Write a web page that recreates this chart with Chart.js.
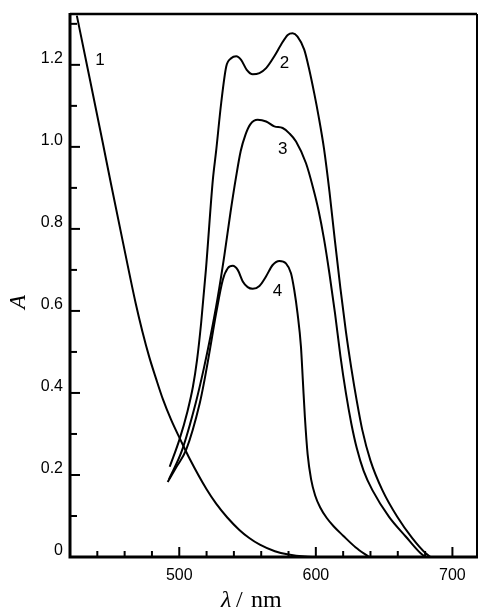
<!DOCTYPE html>
<html>
<head>
<meta charset="utf-8">
<script src="https://cdn.jsdelivr.net/npm/chart.js@4.4.0/dist/chart.umd.min.js"></script>
<style>
  html, body { margin: 0; padding: 0; background: #fff; }
  #wrap { width: 479px; height: 609px; position: relative; }
</style>
</head>
<body>
<div id="wrap"><canvas id="spectra"></canvas></div>
<script>
// curve 1
const c1Wl = [425, 433, 444, 450, 458, 468, 473, 478, 483, 488, 494, 501, 508, 520, 527, 535, 544, 551, 559, 570, 580, 592, 600];
const c1A = [1.32, 1.19, 1.01, 0.91, 0.78, 0.62, 0.55, 0.488, 0.435, 0.385, 0.335, 0.285, 0.237, 0.165, 0.13, 0.097, 0.066, 0.047, 0.03, 0.014, 0.006, 0.001, 0];

// curve 2
const c2Wl = [493, 500, 506, 510, 513, 516, 519.5, 524.6, 527, 530.7, 534.4, 538, 541.7, 545.3, 549.4, 553.8, 558.7, 563.6, 569.6, 574.5, 579.4, 583, 586.6, 591.5, 595.2, 598.8, 602, 606, 610, 614, 618, 622, 626, 630, 634, 640, 648.7, 659.6, 670.6, 680.4, 684];
const c2A = [0.22, 0.285, 0.355, 0.415, 0.48, 0.57, 0.70, 0.92, 0.99, 1.107, 1.196, 1.216, 1.221, 1.212, 1.188, 1.177, 1.18, 1.192, 1.221, 1.249, 1.273, 1.277, 1.269, 1.237, 1.188, 1.131, 1.075, 0.995, 0.89, 0.77, 0.655, 0.55, 0.46, 0.38, 0.31, 0.235, 0.163, 0.098, 0.046, 0.009, 0];

// curve 3
const c3Wl = [492.5, 502, 512, 518, 523, 528, 533, 537.5, 541.5, 545, 548.5, 552, 557.4, 563.6, 569.6, 575.7, 580.6, 585.5, 592.8, 598, 602, 606, 610, 614, 618, 622, 626, 630, 635, 641.4, 653.6, 665.8, 675.5, 680];
const c3A = [0.19, 0.26, 0.375, 0.46, 0.54, 0.63, 0.735, 0.84, 0.925, 0.99, 1.03, 1.055, 1.066, 1.062, 1.05, 1.046, 1.033, 1.013, 0.96, 0.9, 0.845, 0.775, 0.69, 0.595, 0.49, 0.40, 0.325, 0.265, 0.21, 0.163, 0.098, 0.05, 0.013, 0];

// curve 4
const c4Wl = [491.5, 498, 505, 515, 518.5, 522, 527, 531.9, 535.5, 539.2, 542.8, 546.5, 550.1, 553.8, 558.7, 563.5, 568.4, 573.3, 578.1, 581.8, 584.2, 586.6, 589.1, 590.5, 592, 594, 596.5, 599.5, 603, 608, 613, 620, 629, 639];
const c4A = [0.183, 0.22, 0.261, 0.375, 0.432, 0.497, 0.594, 0.676, 0.704, 0.71, 0.7, 0.672, 0.658, 0.654, 0.661, 0.684, 0.712, 0.722, 0.716, 0.692, 0.651, 0.594, 0.513, 0.43, 0.34, 0.25, 0.19, 0.15, 0.122, 0.095, 0.075, 0.052, 0.024, 0];

// curve numbers and where they sit
const curveLabels = ['1', '2', '3', '4'];
const curveLabelWl = [442, 577, 575.7, 572];
const curveLabelA = [1.212, 1.204, 0.994, 0.647];

const toPoints = (xs, ys) => xs.map((x, i) => ({ x, y: ys[i] }));

const makeSet = (name, xs, ys) => ({
  label: name,
  data: toPoints(xs, ys),
  borderColor: '#000',
  borderWidth: 2,
  pointRadius: 0,
  fill: false,
  cubicInterpolationMode: 'monotone',
});

const isStep = (v, step) => Math.abs(v / step - Math.round(v / step)) < 1e-6;

const decorations = {
  id: 'decorations',
  afterDatasetsDraw(chart) {
    const { ctx, chartArea: a, scales: { x, y } } = chart;
    ctx.save();
    ctx.strokeStyle = '#000';
    ctx.lineCap = 'butt';

    // inward ticks
    ctx.lineWidth = 2;
    x.ticks.forEach((t) => {
      if (!isStep(t.value, 20)) return;
      const px = x.getPixelForValue(t.value);
      const len = isStep(t.value, 100) ? 10 : 6;
      ctx.beginPath();
      ctx.moveTo(px, a.bottom);
      ctx.lineTo(px, a.bottom - len);
      ctx.stroke();
    });
    y.ticks.forEach((t) => {
      if (!isStep(t.value, 0.1)) return;
      const py = y.getPixelForValue(t.value);
      const len = isStep(t.value, 0.2) ? 10 : 7;
      ctx.beginPath();
      ctx.moveTo(a.left, py);
      ctx.lineTo(a.left + len, py);
      ctx.stroke();
    });

    // frame
    ctx.lineWidth = 2.5;
    ctx.beginPath();
    ctx.moveTo(a.left, a.top);
    ctx.lineTo(a.right, a.top);
    ctx.stroke();
    ctx.lineWidth = 2;
    ctx.beginPath();
    ctx.moveTo(a.right, a.top);
    ctx.lineTo(a.right, a.bottom);
    ctx.stroke();
    ctx.lineWidth = 3;
    ctx.beginPath();
    ctx.moveTo(a.left, a.top - 1);
    ctx.lineTo(a.left, a.bottom);
    ctx.lineTo(a.right + 1, a.bottom);
    ctx.stroke();

    // curve numbers
    ctx.fillStyle = '#000';
    ctx.font = '17px "Liberation Sans", Arial, sans-serif';
    ctx.textAlign = 'center';
    ctx.textBaseline = 'middle';
    curveLabels.forEach((txt, i) => {
      ctx.fillText(txt, x.getPixelForValue(curveLabelWl[i]), y.getPixelForValue(curveLabelA[i]));
    });

    // axis titles
    ctx.textAlign = 'left';
    ctx.textBaseline = 'alphabetic';
    ctx.font = 'italic 24px "Liberation Serif", "Times New Roman", serif';
    ctx.fillText('\u03BB', 221, 607);
    ctx.font = '24px "Liberation Serif", "Times New Roman", serif';
    ctx.fillText('/', 236, 607);
    ctx.fillText('nm', 251, 607);

    ctx.save();
    ctx.translate(25, 302);
    ctx.rotate(-Math.PI / 2);
    ctx.textAlign = 'center';
    ctx.font = 'italic 23px "Liberation Serif", "Times New Roman", serif';
    ctx.fillText('A', 0, 0);
    ctx.restore();

    ctx.restore();
  },
};

const tickFont = { family: '"Liberation Sans", Arial, sans-serif', size: 16 };

new Chart(document.getElementById('spectra'), {
  type: 'line',
  data: {
    datasets: [
      makeSet('1', c1Wl, c1A),
      makeSet('2', c2Wl, c2A),
      makeSet('3', c3Wl, c3A),
      makeSet('4', c4Wl, c4A),
    ],
  },
  options: {
    responsive: true,
    maintainAspectRatio: false,
    animation: false,
    layout: { padding: { top: 14, right: 2, left: 0, bottom: 0 } },
    plugins: {
      legend: { display: false },
      tooltip: { enabled: false },
    },
    scales: {
      x: {
        type: 'linear',
        min: 420,
        max: 718,
        grid: { display: false, drawTicks: false },
        border: { display: false },
        ticks: {
          stepSize: 20,
          includeBounds: false,
          autoSkip: false,
          maxRotation: 0,
          padding: 9,
          color: '#000',
          font: tickFont,
          callback: (v) => (isStep(v, 100) ? String(v) : ''),
        },
        afterFit: (scale) => {
          scale.height = 52;
          scale.paddingLeft = 0;
          scale.paddingRight = 0;
        },
      },
      y: {
        type: 'linear',
        min: 0,
        max: 1.324,
        grid: { display: false, drawTicks: false },
        border: { display: false },
        ticks: {
          stepSize: 0.1,
          includeBounds: false,
          autoSkip: false,
          padding: 7,
          labelOffset: -6,
          color: '#000',
          font: tickFont,
          callback: (v) => {
            if (!isStep(v, 0.2)) return '';
            return Math.abs(v) < 1e-9 ? '0' : v.toFixed(1);
          },
        },
        afterFit: (scale) => {
          scale.width = 70;
          scale.paddingTop = 0;
          scale.paddingBottom = 0;
        },
      },
    },
  },
  plugins: [decorations],
});
</script>
</body>
</html>
